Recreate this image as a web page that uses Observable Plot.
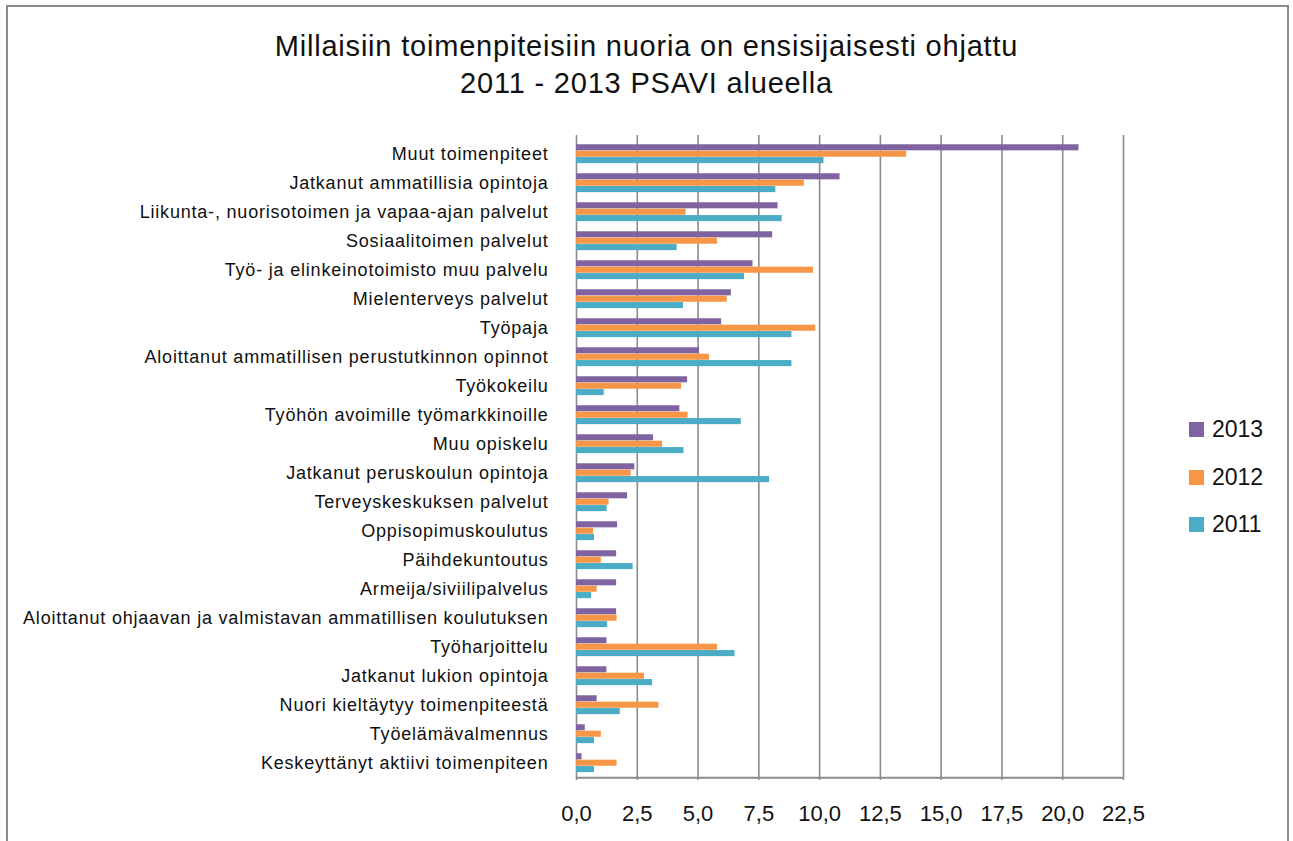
<!DOCTYPE html>
<html>
<head>
<meta charset="utf-8">
<script src="https://cdn.jsdelivr.net/npm/d3@7"></script>
<script src="https://cdn.jsdelivr.net/npm/@observablehq/plot@0.6"></script>
<style>
  html, body { margin: 0; padding: 0; background: #fff; overflow: hidden; }
  #wrap { position: relative; width: 1293px; height: 841px; font-family: "Liberation Sans", Arial, sans-serif; }
  #frame { position: absolute; left: 6px; top: 5px; width: 1283px; height: 900px; border: 2px solid #8c8c8c; box-sizing: border-box; }
  #title { position: absolute; left: 0; width: 1293px; top: 28px; text-align: center; font-size: 29px; letter-spacing: 0.8px; line-height: 37px; color: #111; }
  #chart { position: absolute; left: 0; top: 100px; }
  #legend { position: absolute; left: 1189px; top: 406px; font-size: 23px; color: #111; }
  .li { display: flex; align-items: center; height: 47.5px; }
  .sw { width: 15px; height: 15px; margin-right: 8px; }
  .yax text { letter-spacing: 0.8px; }
</style>
</head>
<body>
<div id="wrap">
  <div id="frame"></div>
  <div id="title">Millaisiin toimenpiteisiin nuoria on ensisijaisesti ohjattu<br>2011 - 2013 PSAVI alueella</div>
  <div id="chart"></div>
  <div id="legend"></div>
</div>
<script>
const categories = [
  "Muut toimenpiteet",
  "Jatkanut ammatillisia opintoja",
  "Liikunta-, nuorisotoimen ja vapaa-ajan palvelut",
  "Sosiaalitoimen palvelut",
  "Työ- ja elinkeinotoimisto muu palvelu",
  "Mielenterveys palvelut",
  "Työpaja",
  "Aloittanut ammatillisen perustutkinnon opinnot",
  "Työkokeilu",
  "Työhön avoimille työmarkkinoille",
  "Muu opiskelu",
  "Jatkanut peruskoulun opintoja",
  "Terveyskeskuksen palvelut",
  "Oppisopimuskoulutus",
  "Päihdekuntoutus",
  "Armeija/siviilipalvelus",
  "Aloittanut ohjaavan ja valmistavan ammatillisen koulutuksen",
  "Työharjoittelu",
  "Jatkanut lukion opintoja",
  "Nuori kieltäytyy toimenpiteestä",
  "Työelämävalmennus",
  "Keskeyttänyt aktiivi toimenpiteen"
];
const v2013 = [20.67, 10.84, 8.29, 8.07, 7.26, 6.37, 5.97, 5.06, 4.57, 4.25, 3.17, 2.40, 2.10, 1.69, 1.65, 1.65, 1.65, 1.25, 1.25, 0.85, 0.36, 0.23];
const v2012 = [13.58, 9.37, 4.51, 5.80, 9.75, 6.20, 9.84, 5.47, 4.32, 4.59, 3.54, 2.25, 1.34, 0.70, 1.02, 0.85, 1.67, 5.80, 2.80, 3.39, 1.02, 1.67];
const v2011 = [10.18, 8.20, 8.46, 4.14, 6.91, 4.40, 8.86, 8.86, 1.14, 6.78, 4.42, 7.94, 1.26, 0.74, 2.33, 0.62, 1.28, 6.52, 3.13, 1.80, 0.74, 0.74];
const seriesNames = ["2013", "2012", "2011"];
const seriesColors = ["#8064A2", "#F79646", "#4BACC6"];
const xTicks = [0, 2.5, 5, 7.5, 10, 12.5, 15, 17.5, 20, 22.5];

const seriesValues = [v2013, v2012, v2011];
const data = seriesValues.map((vals, s) => categories.map((c, i) => ({cat: c, value: vals[i], series: seriesNames[s]})));

const bandH = (780 - 135) / categories.length;
const barH = 6.4;
const offsets = [-6.2, 0.2, 6.6];

const marks = [
  Plot.ruleX(xTicks, {stroke: "#8c8c8c", strokeWidth: 1.6, strokeOpacity: 1})
];
data.forEach((d, s) => {
  marks.push(Plot.barX(d, {
    y: "cat", x: "value", fill: seriesColors[s],
    insetTop: (bandH - barH) / 2, insetBottom: (bandH - barH) / 2,
    dy: offsets[s]
  }));
});
marks.push(Plot.ruleY([categories[categories.length - 1]], {
  x1: 0, x2: 22.5, stroke: "#8c8c8c", strokeWidth: 2, dy: bandH / 2
}));
marks.push(Plot.axisX({
  ticks: xTicks, tickSize: 0, tickPadding: 25,
  tickFormat: d => d.toFixed(1).replace(".", ","),
  fontSize: 22, label: null
}));
marks.push(Plot.axisY({
  tickSize: 0, tickPadding: 28, fontSize: 18, label: null, className: "yax"
}));

const chart = Plot.plot({
  width: 1150,
  height: 740,
  marginLeft: 576,
  marginRight: 27,
  marginTop: 35,
  marginBottom: 60,
  style: {fontFamily: "'Liberation Sans', Arial, sans-serif", color: "#111", background: "transparent", overflow: "visible"},
  x: {domain: [0, 22.5]},
  y: {domain: categories, padding: 0},
  marks
});
document.getElementById("chart").appendChild(chart);

const legend = document.getElementById("legend");
seriesNames.forEach((n, i) => {
  const row = document.createElement("div");
  row.className = "li";
  const sw = document.createElement("div");
  sw.className = "sw";
  sw.style.background = seriesColors[i];
  const t = document.createElement("span");
  t.textContent = n;
  row.appendChild(sw); row.appendChild(t);
  legend.appendChild(row);
});
</script>
</body>
</html>
